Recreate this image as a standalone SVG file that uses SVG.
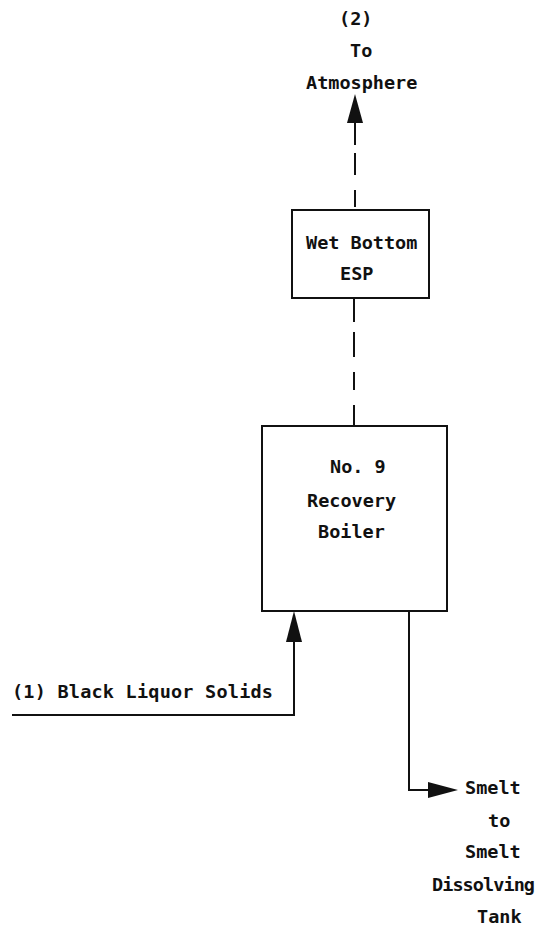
<svg xmlns="http://www.w3.org/2000/svg" width="548" height="930" viewBox="0 0 548 930">
<style>
text{font-family:"DejaVu Sans Mono","Liberation Mono",monospace;font-size:18.5px;font-weight:bold;fill:#111}
.box{fill:#fff;stroke:#111;stroke-width:2}
.ln{fill:none;stroke:#111;stroke-width:2}
.ah{fill:#111;stroke:none}
</style>
<rect width="548" height="930" fill="#fff"/>
<g id="connectors">
<path class="ln" d="M355,123 V145 M355,153 V175 M355,190 V207"/>
<polygon class="ah" points="355,94 347,123 363,123"/>
<path class="ln" d="M354,298 V322 M354,332 V357 M354,372 V390 M354,405 V426"/>
<path class="ln" d="M12,715 H294 V640"/>
<polygon class="ah" points="294,611 286,642 302,642"/>
<path class="ln" d="M409,611 V790 H430"/>
<polygon class="ah" points="458,790 428,782 428,798"/>
</g>
<g id="atmosphere">
<text x="339" y="25">(2)</text>
<text x="350" y="57">To</text>
<text x="306" y="89">Atmosphere</text>
</g>
<g id="esp">
<rect class="box" x="292" y="210" width="137" height="88"/>
<text x="306" y="249">Wet Bottom</text>
<text x="340" y="280">ESP</text>
</g>
<g id="boiler">
<rect class="box" x="262" y="426" width="185" height="185"/>
<text x="330" y="473">No. 9</text>
<text x="307" y="507">Recovery</text>
<text x="318" y="538">Boiler</text>
</g>
<g id="black-liquor">
<text x="12" y="698" textLength="261" lengthAdjust="spacing">(1) Black Liquor Solids</text>
</g>
<g id="smelt">
<text x="465" y="794">Smelt</text>
<text x="488" y="827">to</text>
<text x="465" y="858">Smelt</text>
<text x="432" y="891" textLength="103" lengthAdjust="spacing">Dissolving</text>
<text x="477" y="923">Tank</text>
</g>
</svg>
